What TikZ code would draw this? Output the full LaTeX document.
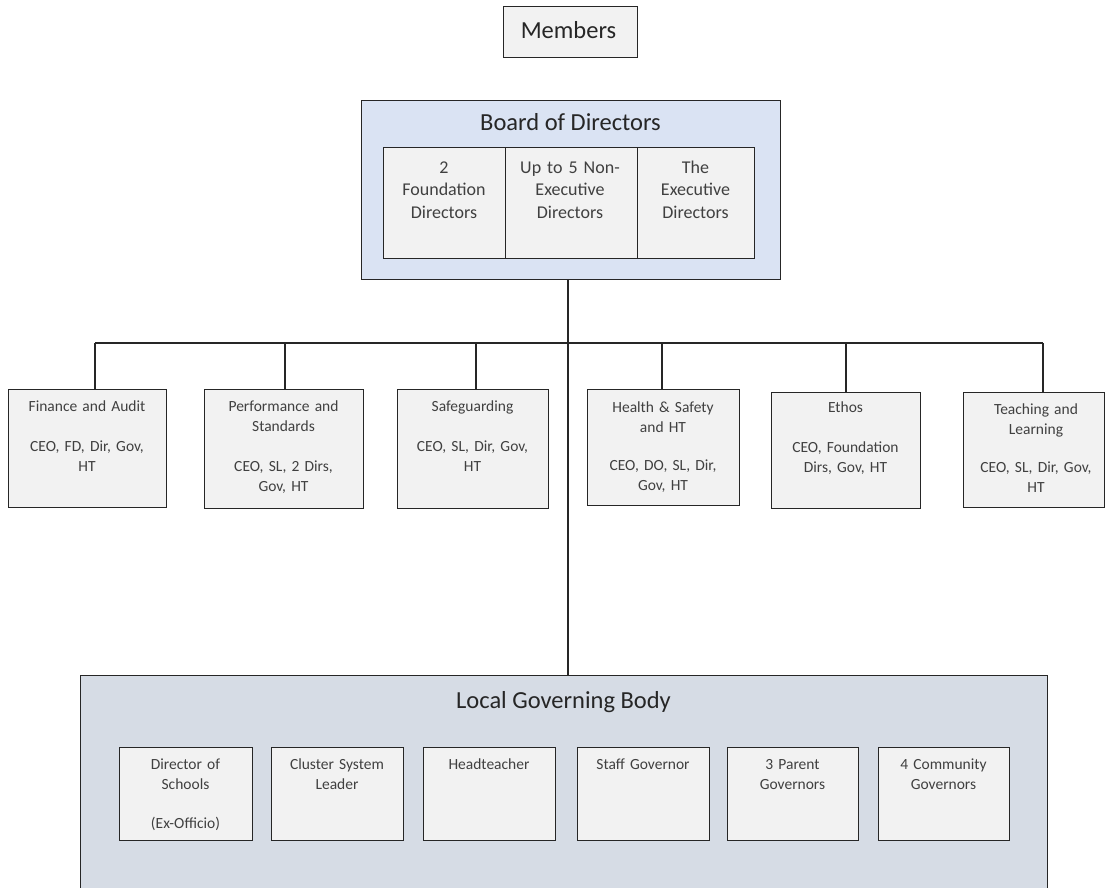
\documentclass[tikz,border=0pt]{standalone}
\usepackage{fontspec}
\setmainfont{Carlito}
\definecolor{boardfill}{HTML}{DAE3F3}
\definecolor{lgbfill}{HTML}{D6DCE5}
\definecolor{cellfill}{HTML}{F2F2F2}
\definecolor{edgecol}{HTML}{262626}
\definecolor{smalltxt}{HTML}{404040}
\definecolor{bigtxt}{HTML}{262626}
\begin{document}
\begin{tikzpicture}[x=1pt,y=-1pt,
  frame/.style={draw=edgecol, line width=1.4pt, inner sep=0pt, anchor=north west},
  cell/.style={frame, fill=cellfill},
  bigtitle/.style={font=\fontsize{24.5}{30}\selectfont, text=bigtxt, anchor=base, inner sep=0pt},
  boardtxt/.style={font=\fontsize{18}{22.5}\selectfont, text=smalltxt, anchor=base, inner sep=0pt, align=center, text width=115pt},
  smalltext/.style={font=\fontsize{15.5}{20}\selectfont, text=smalltxt, anchor=base, inner sep=0pt, align=center, text width=150pt},
  link/.style={draw=edgecol, line width=1.3pt}]
\clip (0,0) rectangle (1106,888);
\fill[white] (0,0) rectangle (1106,888);

% Members
\node[cell, minimum width=134pt, minimum height=51pt] (members) at (503,6) {};
\node[bigtitle] (memberst) at (568.5,39) {Members};

% Board of Directors
\node[frame, fill=boardfill, minimum width=419pt, minimum height=179pt] (board) at (361,100) {};
\node[bigtitle] (boardt) at (570.5,131) {Board of Directors};
\node[cell, minimum width=122pt, minimum height=111pt] (b1) at (383,147) {};
\node[cell, minimum width=132pt, minimum height=111pt] (b2) at (505,147) {};
\node[cell, minimum width=117pt, minimum height=111pt] (b3) at (637,147) {};
\node[boardtxt] (b1t) at (444,173) {2\\Foundation\\Directors};
\node[boardtxt] (b2t) at (570,173) {Up to 5 Non-\\Executive\\Directors};
\node[boardtxt] (b3t) at (695.5,173) {The\\Executive\\Directors};

% Committees
\node[cell, minimum width=158pt, minimum height=118pt] (fin) at (8,389) {};
\node[cell, minimum width=159pt, minimum height=119pt] (perf) at (204,389) {};
\node[cell, minimum width=151pt, minimum height=119pt] (safe) at (397,389) {};
\node[cell, minimum width=152pt, minimum height=116pt] (hs) at (587,389) {};
\node[cell, minimum width=149pt, minimum height=116pt] (ethos) at (771,392) {};
\node[cell, minimum width=141pt, minimum height=115pt] (teach) at (963,392) {};

\node[smalltext] (fint) at (87,411) {Finance and Audit\\[20pt]CEO, FD, Dir, Gov,\\HT};
\node[smalltext] (perft) at (283.5,411) {Performance and\\Standards\\[20pt]CEO, SL, 2 Dirs,\\Gov, HT};
\node[smalltext] (safet) at (472.5,411) {Safeguarding\\[20pt]CEO, SL, Dir, Gov,\\HT};
\node[smalltext] (hst) at (663,412) {Health \& Safety\\and HT\\[18pt]CEO, DO, SL, Dir,\\Gov, HT};
\node[smalltext] (ethost) at (845.5,412) {Ethos\\[20pt]CEO, Foundation\\Dirs, Gov, HT};
\node[smalltext] (teacht) at (1036,414) {Teaching and\\Learning\\[18pt]CEO, SL, Dir, Gov,\\HT};

% Local Governing Body
\node[frame, fill=lgbfill, minimum width=967pt, minimum height=240pt] (lgb) at (80,675) {};
\node[bigtitle] (lgbt) at (563.5,708) {Local Governing Body};
\node[cell, minimum width=133pt, minimum height=93pt] (g1) at (119,747) {};
\node[cell, minimum width=132pt, minimum height=93pt] (g2) at (271,747) {};
\node[cell, minimum width=132pt, minimum height=93pt] (g3) at (423,747) {};
\node[cell, minimum width=132pt, minimum height=93pt] (g4) at (577,747) {};
\node[cell, minimum width=131pt, minimum height=93pt] (g5) at (727,747) {};
\node[cell, minimum width=131pt, minimum height=93pt] (g6) at (878,747) {};
\node[smalltext] (g1t) at (185.5,769) {Director of\\Schools\\[19pt](Ex-Officio)};
\node[smalltext] (g2t) at (337,769) {Cluster System\\Leader};
\node[smalltext] (g3t) at (489,769) {Headteacher};
\node[smalltext] (g4t) at (643,769) {Staff Governor};
\node[smalltext] (g5t) at (792.5,769) {3 Parent\\Governors};
\node[smalltext] (g6t) at (943.5,769) {4 Community\\Governors};

% Connectors
\coordinate (trunk) at (568,343);
\coordinate (d1) at (95,343);
\coordinate (d2) at (285,343);
\coordinate (d3) at (476,343);
\coordinate (d4) at (662,343);
\coordinate (d5) at (846,343);
\coordinate (d6) at (1043,343);
\draw[link] (trunk |- board.south) -- (trunk |- lgb.north);
\draw[link] (d1) -- (d6);
\draw[link] (d1) -- (d1 |- fin.north);
\draw[link] (d2) -- (d2 |- perf.north);
\draw[link] (d3) -- (d3 |- safe.north);
\draw[link] (d4) -- (d4 |- hs.north);
\draw[link] (d5) -- (d5 |- ethos.north);
\draw[link] (d6) -- (d6 |- teach.north);
\end{tikzpicture}
\end{document}
